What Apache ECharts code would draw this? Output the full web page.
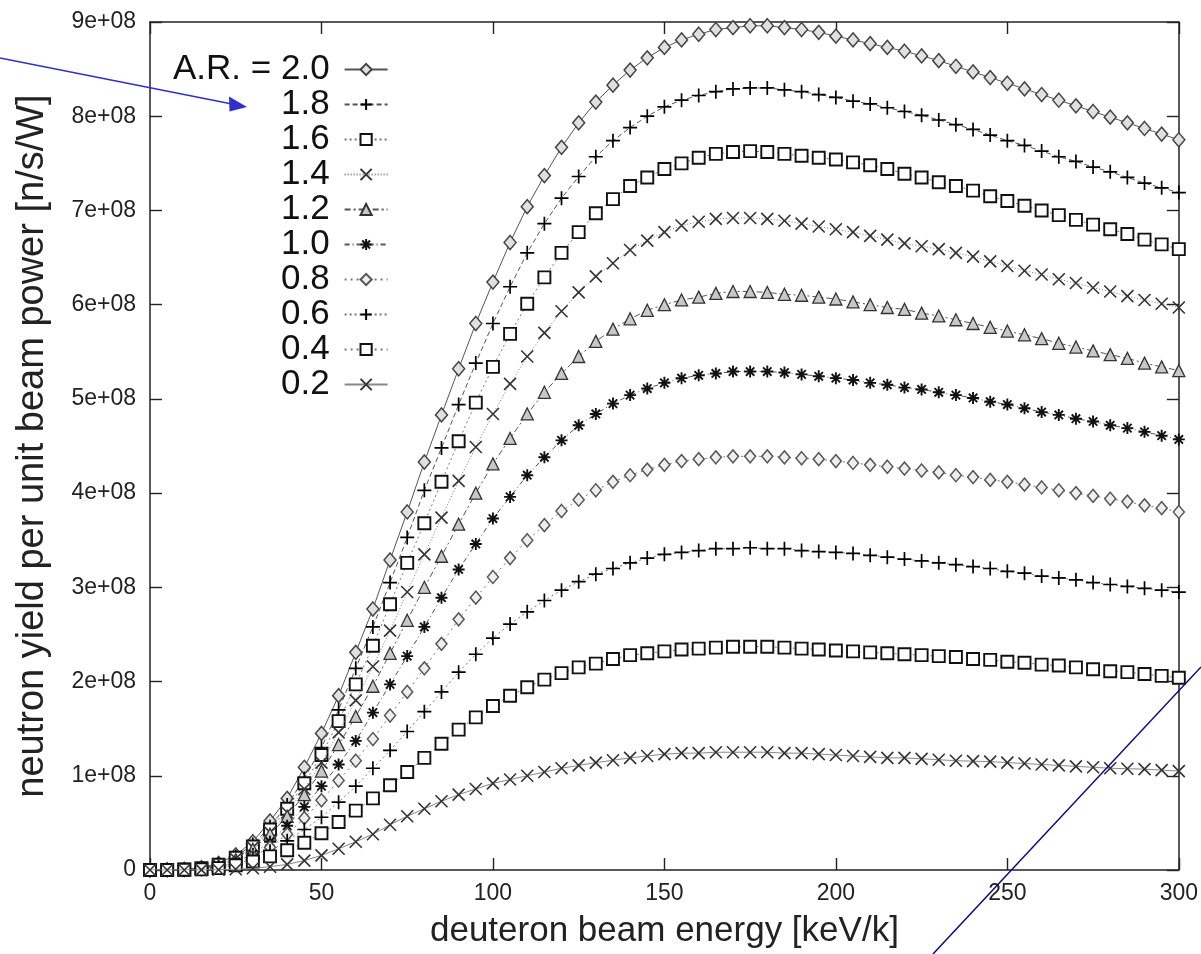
<!DOCTYPE html>
<html><head><meta charset="utf-8">
<script src="https://cdn.jsdelivr.net/npm/echarts@6/dist/echarts.min.js"></script>
<style>html,body{margin:0;padding:0;background:#fff}#c{width:1201px;height:954px}</style>
</head><body><div id="c"></div>
<script>
// deuteron beam energy [keV/k]
const energy = [0,5,10,15,20,25,30,35,40,45,50,55,60,65,70,75,80,85,90,95,100,105,110,115,120,125,130,135,140,145,150,155,160,165,170,175,180,185,190,195,200,205,210,215,220,225,230,235,240,245,250,255,260,265,270,275,280,285,290,295,300];
// neutron yield per unit beam power, in units of 1e8 n/s/W
const UNIT = 1e8;
const AR20 = [0,0.002,0.006,0.025,0.07,0.16,0.30,0.52,0.76,1.09,1.45,1.85,2.31,2.77,3.29,3.80,4.33,4.83,5.32,5.80,6.24,6.66,7.04,7.37,7.67,7.93,8.15,8.33,8.49,8.62,8.73,8.81,8.87,8.92,8.94,8.96,8.96,8.94,8.92,8.89,8.85,8.81,8.77,8.73,8.69,8.64,8.59,8.53,8.47,8.41,8.35,8.29,8.23,8.17,8.11,8.05,7.99,7.93,7.87,7.81,7.75];
const AR18 = [0,0.002,0.005,0.02,0.06,0.14,0.27,0.46,0.69,0.97,1.30,1.70,2.14,2.58,3.05,3.53,4.03,4.48,4.94,5.38,5.80,6.19,6.55,6.86,7.13,7.36,7.57,7.74,7.88,8.00,8.10,8.17,8.22,8.26,8.29,8.30,8.30,8.28,8.26,8.23,8.20,8.16,8.13,8.09,8.05,8.01,7.96,7.91,7.86,7.80,7.74,7.69,7.63,7.57,7.52,7.46,7.41,7.35,7.29,7.24,7.19];
const AR16 = [0,0.001,0.005,0.02,0.055,0.13,0.25,0.43,0.65,0.92,1.22,1.58,1.97,2.38,2.82,3.26,3.68,4.12,4.55,4.96,5.34,5.69,6.01,6.29,6.55,6.77,6.97,7.12,7.26,7.35,7.44,7.50,7.56,7.60,7.62,7.63,7.62,7.60,7.58,7.56,7.54,7.51,7.48,7.44,7.39,7.35,7.30,7.26,7.21,7.15,7.10,7.05,7.00,6.95,6.90,6.85,6.80,6.75,6.69,6.64,6.59];
const AR14 = [0,0.001,0.004,0.017,0.05,0.12,0.24,0.40,0.61,0.86,1.14,1.46,1.80,2.16,2.54,2.95,3.35,3.74,4.13,4.49,4.84,5.16,5.45,5.70,5.93,6.13,6.30,6.44,6.58,6.68,6.77,6.84,6.88,6.91,6.92,6.92,6.91,6.89,6.86,6.83,6.80,6.77,6.73,6.69,6.65,6.62,6.59,6.55,6.51,6.46,6.41,6.36,6.32,6.27,6.23,6.18,6.14,6.09,6.05,6.01,5.97];
const AR12 = [0,0.001,0.004,0.015,0.045,0.11,0.22,0.38,0.57,0.80,1.05,1.33,1.63,1.95,2.30,2.65,3.00,3.33,3.67,4.00,4.31,4.58,4.84,5.07,5.27,5.45,5.61,5.74,5.85,5.94,6.00,6.05,6.08,6.12,6.14,6.14,6.13,6.11,6.10,6.08,6.06,6.03,6.00,5.97,5.95,5.91,5.88,5.84,5.80,5.76,5.72,5.68,5.64,5.59,5.55,5.51,5.47,5.43,5.38,5.34,5.30];
const AR10 = [0,0.001,0.003,0.012,0.035,0.085,0.17,0.30,0.47,0.67,0.89,1.12,1.37,1.67,1.97,2.27,2.58,2.89,3.19,3.46,3.73,3.96,4.19,4.38,4.56,4.72,4.84,4.95,5.04,5.11,5.17,5.22,5.25,5.27,5.29,5.29,5.29,5.28,5.26,5.24,5.22,5.20,5.17,5.15,5.12,5.10,5.07,5.04,5.01,4.97,4.94,4.90,4.86,4.83,4.79,4.76,4.72,4.69,4.65,4.61,4.57];
const AR08 = [0,0.0005,0.002,0.01,0.03,0.07,0.14,0.24,0.38,0.55,0.74,0.95,1.16,1.39,1.64,1.89,2.14,2.40,2.66,2.89,3.11,3.31,3.50,3.66,3.81,3.93,4.03,4.12,4.19,4.25,4.30,4.34,4.36,4.38,4.39,4.39,4.39,4.38,4.37,4.36,4.34,4.32,4.30,4.28,4.26,4.24,4.22,4.19,4.17,4.14,4.12,4.09,4.06,4.03,4.00,3.97,3.94,3.91,3.87,3.84,3.80];
const AR06 = [0,0.0004,0.002,0.008,0.025,0.06,0.12,0.20,0.31,0.43,0.56,0.72,0.89,1.08,1.27,1.47,1.68,1.89,2.10,2.29,2.46,2.61,2.74,2.86,2.97,3.06,3.14,3.20,3.26,3.31,3.35,3.37,3.39,3.41,3.41,3.42,3.41,3.41,3.39,3.38,3.37,3.36,3.34,3.32,3.30,3.28,3.26,3.24,3.22,3.20,3.17,3.15,3.12,3.10,3.08,3.05,3.03,3.01,2.99,2.97,2.95];
const AR04 = [0,0.0003,0.002,0.007,0.02,0.05,0.09,0.145,0.21,0.29,0.39,0.51,0.63,0.76,0.90,1.04,1.19,1.34,1.49,1.62,1.74,1.85,1.94,2.02,2.09,2.15,2.19,2.24,2.28,2.30,2.32,2.34,2.35,2.36,2.37,2.37,2.37,2.36,2.35,2.34,2.33,2.32,2.31,2.30,2.29,2.28,2.27,2.26,2.24,2.23,2.21,2.20,2.18,2.17,2.15,2.13,2.11,2.10,2.08,2.06,2.04];
const AR02 = [0,0.0001,0.0005,0.001,0.003,0.008,0.018,0.035,0.06,0.10,0.155,0.225,0.30,0.38,0.48,0.57,0.65,0.73,0.80,0.86,0.92,0.96,1.00,1.04,1.08,1.11,1.14,1.165,1.19,1.21,1.23,1.24,1.24,1.25,1.25,1.25,1.25,1.24,1.24,1.23,1.22,1.21,1.20,1.19,1.19,1.18,1.17,1.16,1.155,1.15,1.14,1.13,1.12,1.11,1.10,1.09,1.08,1.075,1.07,1.06,1.05];

const seriesNames = ['A.R. = 2.0','1.8','1.6','1.4','1.2','1.0','0.8','0.6','0.4','0.2'];
const seriesValues = [AR20, AR18, AR16, AR14, AR12, AR10, AR08, AR06, AR04, AR02];
const xTicks = [0,50,100,150,200,250,300];
const yTickLabels = ['0','1e+08','2e+08','3e+08','4e+08','5e+08','6e+08','7e+08','8e+08','9e+08'];

// marker shapes
const PLUS = 'path://M5,0L5,10M0,5L10,5';
const CROSS = 'path://M0,0L10,10M10,0L0,10';
const STAR = 'path://M5,0L5,10M0,5L10,5M1.5,1.5L8.5,8.5M8.5,1.5L1.5,8.5';
const styles = [
  {symbol:'diamond', size:[12,14], fill:'#e0e0e0', stroke:'#444', bw:1.5, dash:'solid', lc:'#555'},
  {symbol:PLUS, size:14, fill:'none', stroke:'#000', bw:1.7, dash:[5,3], lc:'#555'},
  {symbol:'rect', size:12, fill:'#fff', stroke:'#111', bw:1.9, dash:[2,3], lc:'#777'},
  {symbol:CROSS, size:12, fill:'none', stroke:'#333', bw:1.6, dash:[1,2], lc:'#777'},
  {symbol:'triangle', size:12, fill:'#c8c8c8', stroke:'#333', bw:1.3, dash:[6,3,2,3], lc:'#555'},
  {symbol:STAR, size:12, fill:'none', stroke:'#111', bw:1.9, dash:[5,3,1,3], lc:'#555'},
  {symbol:'diamond', size:[11,13], fill:'#eee', stroke:'#555', bw:1.5, dash:[2,4], lc:'#777'},
  {symbol:PLUS, size:14, fill:'none', stroke:'#000', bw:1.7, dash:[2,3], lc:'#777'},
  {symbol:'rect', size:12, fill:'#fff', stroke:'#111', bw:1.9, dash:[2,4], lc:'#777'},
  {symbol:CROSS, size:12, fill:'none', stroke:'#333', bw:1.6, dash:'solid', lc:'#888'}
];

const FONT = 'Liberation Sans, Arial, sans-serif';
const series = seriesNames.map((name, k) => ({
  name, type:'line', xAxisIndex:0, yAxisIndex:0,
  data: energy.map((e, i) => [e, seriesValues[k][i] * UNIT]),
  symbol: styles[k].symbol, symbolSize: styles[k].size, showAllSymbol:true,
  lineStyle:{color:styles[k].lc, width:1, type:styles[k].dash},
  itemStyle:{color:styles[k].fill, borderColor:styles[k].stroke, borderWidth:styles[k].bw},
  emphasis:{disabled:true}, z: 2 + k
}));

const mkLine = () => ({show:true, onZero:false, lineStyle:{color:'#222', width:1.5}});
const mkTick = () => ({show:true, inside:true, length:12, lineStyle:{color:'#222', width:1.4}});
const chart = echarts.init(document.getElementById('c'), null, {renderer:'canvas'});
chart.setOption({
  animation:false,
  backgroundColor:'#fff',
  grid:{left:150, right:20, top:22, bottom:82},
  xAxis:[
    {type:'value', min:0, max:300, interval:50, position:'bottom',
     name:'deuteron beam energy [keV/k]', nameLocation:'middle', nameGap:44,
     nameTextStyle:{fontSize:35, fontFamily:FONT, color:'#222'},
     axisLine:mkLine(), axisTick:mkTick(),
     axisLabel:{fontSize:23, fontFamily:FONT, color:'#222', margin:12},
     splitLine:{show:false}},
    {type:'value', min:0, max:300, interval:50, position:'top',
     axisLine:mkLine(), axisTick:mkTick(),
     axisLabel:{show:false}, splitLine:{show:false}}
  ],
  yAxis:[
    {type:'value', min:0, max:9*UNIT, interval:UNIT, position:'left',
     name:'neutron yield per unit beam power [n/s/W]', nameLocation:'middle', nameGap:98,
     nameRotate:90,
     nameTextStyle:{fontSize:38, fontFamily:FONT, color:'#222'},
     axisLine:mkLine(), axisTick:mkTick(),
     axisLabel:{fontSize:23, fontFamily:FONT, color:'#222', margin:14,
       formatter: v => yTickLabels[Math.round(v / UNIT)]},
     splitLine:{show:false}},
    {type:'value', min:0, max:9*UNIT, interval:UNIT, position:'right',
     axisLine:mkLine(), axisTick:mkTick(),
     axisLabel:{show:false}, splitLine:{show:false}}
  ],
  legend:{
    orient:'vertical', left:173, top:52, padding:0, itemGap:0, align:'right',
    itemWidth:43, itemHeight:14, selectedMode:false,
    textStyle:{fontSize:35, fontFamily:FONT, color:'#111', lineHeight:35, padding:[0,10,0,0]},
    data: seriesNames
  },
  series,
  graphic:[
    {type:'line', shape:{x1:0, y1:58, x2:232, y2:104}, style:{stroke:'#2f2fcf', lineWidth:1.5}, z:100},
    {type:'polygon', shape:{points:[[247,107],[229,96.5],[229.5,111.5]]}, style:{fill:'#2f2fcf'}, z:100},
    {type:'line', shape:{x1:933, y1:954, x2:1201, y2:667}, style:{stroke:'#0a0a85', lineWidth:1.5}, z:100}
  ]
});
</script>
</body></html>
